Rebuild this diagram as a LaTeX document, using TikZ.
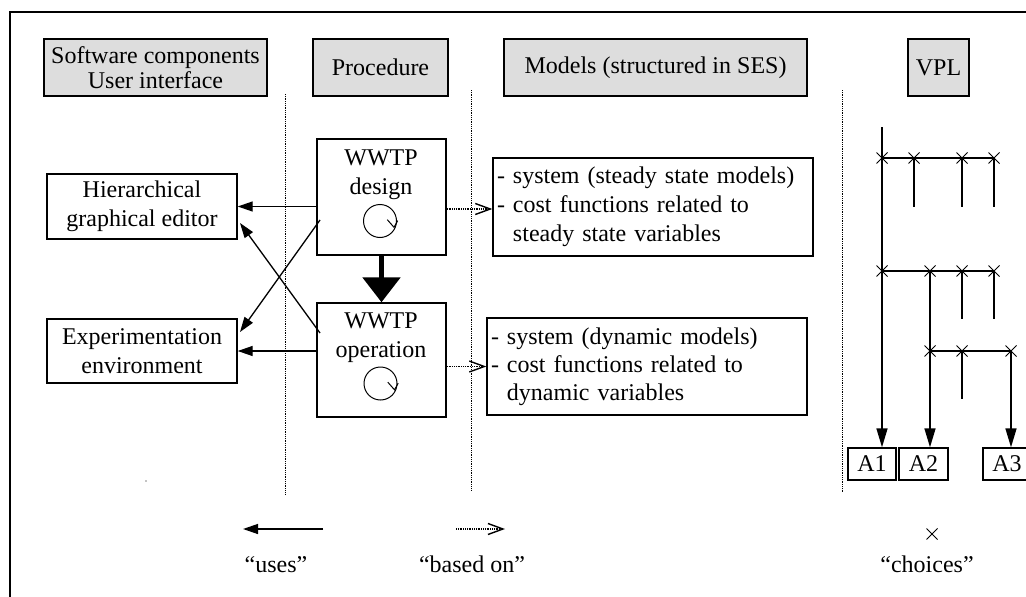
\documentclass[tikz,border=0pt]{standalone}
\usepackage{fontspec}
\setmainfont{Liberation Serif}
\usetikzlibrary{arrows.meta,calc}
\definecolor{hdrgray}{RGB}{221,221,221}
\tikzset{
  lbl/.style={font=\fontsize{24pt}{29pt}\selectfont},
  hdr/.style={draw, line width=1.5pt, fill=hdrgray, inner sep=0pt, lbl, align=center},
  box/.style={draw, line width=1.4pt, inner sep=0pt, lbl, align=center},
  modelbox/.style={draw, line width=1.4pt, inner xsep=4pt, inner ysep=0pt, lbl, align=left, text width=312pt},
  abox/.style={draw, line width=1.4pt, inner sep=0pt, lbl, minimum width=48pt, minimum height=32pt},
  plain/.style={inner sep=0pt, lbl, align=center},
  uses/.style={line width=1.3pt, -{Triangle[length=15pt,width=10pt]}},
  basedon/.style={line width=1.1pt, dash pattern=on 1pt off 0.8pt, -{Straight Barb[length=15pt,width=11pt,line width=1.4pt]}},
  divider/.style={line width=1pt, dash pattern=on 1pt off 0.8pt},
  vpl/.style={line width=1.6pt},
  vplarrow/.style={line width=1.6pt, -{Triangle[length=19pt,width=11pt]}},
  xmark/.pic={\draw[line width=0.9pt] (-5.5,-5.5) -- (5.5,5.5) (-5.5,5.5) -- (5.5,-5.5);},
  cyc/.pic={\draw[line width=1pt] (0,0) circle (16.5pt);
            \draw[line width=1pt] (7.3,-1.3) -- (14,6.3) -- (17.7,-0.3);}
}
\begin{document}
\begin{tikzpicture}[x=1pt, y=-1pt]
\useasboundingbox (0,0) rectangle (1026,597);
% frame
\draw[line width=2pt] (10,597) -- (10,12) -- (1026,12);

% headers
\node[hdr, minimum width=223pt, minimum height=57pt, font=\fontsize{24pt}{25.5pt}\selectfont] (h1) at (155.5,67.5) {Software components\\User interface};
\node[hdr, minimum width=135pt, minimum height=57pt] (h2) at (380.5,67.5) {Procedure};
\node[hdr, minimum width=303pt, minimum height=57pt] (h3) at (655.5,67.5) {Models (structured in SES)};
\node[hdr, minimum width=61pt, minimum height=57pt] (h4) at (938.5,67.5) {VPL};

% dividers
\coordinate (d1t) at (285,94);  \coordinate (d1b) at (285,495);
\coordinate (d2t) at (471,90);  \coordinate (d2b) at (471,491);
\coordinate (d3t) at (842,90);  \coordinate (d3b) at (842,492);
\draw[divider] (d1t) -- (d1b);
\draw[divider] (d2t) -- (d2b);
\draw[divider] (d3t) -- (d3b);

% software components
\node[box, minimum width=190pt, minimum height=65pt] (hier) at (142,206.5) {Hierarchical\\graphical editor};
\node[box, minimum width=190pt, minimum height=64pt] (exp) at (142,351) {Experimentation\\environment};

% procedure
\node[box, minimum width=129pt, minimum height=116pt] (design) at (381.5,197) {};
\node[plain] (designtxt) at (381,175) {WWTP\\design};
\pic at (380,221) {cyc};
\node[box, minimum width=129pt, minimum height=114pt] (oper) at (381.5,360) {};
\node[plain] (opertxt) at (381,338) {WWTP\\operation};
\pic at (380.5,383.5) {cyc};

\draw[line width=5.5pt, -{Triangle[length=25pt,width=37pt]}] (design.south) -- (oper.north);

% models
\node[modelbox, minimum height=98pt] (m1) at (653,207) {- system (steady state models)\\- cost functions related to\\\phantom{- }steady state variables};
\node[modelbox, minimum height=97pt, font=\fontsize{24pt}{28pt}\selectfont] (m2) at (647,366.5) {- system (dynamic models)\\- cost functions related to\\\phantom{- }dynamic variables};

% uses arrows
\draw[uses] (design.west |- hier.east) -- (hier.east);
\draw[uses] (oper.west |- exp.east) -- (exp.east);
\coordinate (c1) at (320,220);
\coordinate (c2) at (240,332);
\coordinate (c3) at (320,333);
\coordinate (c4) at (240,223);
\draw[uses] (c1) -- (c2);
\draw[uses] (c3) -- (c4);

% based on arrows
\draw[basedon] (design.east |- 0,209) -- (m1.west |- 0,209);
\draw[basedon] (oper.east |- m2.west) -- (m2.west);

% VPL
\node[abox] (a1) at (872,464) {A1};
\node[abox, minimum width=49pt] (a2) at (923.5,464) {A2};
\node[abox] (a3) at (1007,464) {A3};

\coordinate (top) at (882,127);
\draw[vplarrow] (top) -- (top |- a1.north);
\draw[vpl] (882,158) -- (994,158);
\draw[vpl] (914,158) -- (914,207) (962,158) -- (962,207) (994,158) -- (994,207);
\draw[vpl] (882,271) -- (994,271);
\draw[vpl] (962,271) -- (962,319) (994,271) -- (994,319);
\coordinate (r2) at (930,271);
\draw[vplarrow] (r2) -- (r2 |- a2.north);
\draw[vpl] (930,351) -- (1011,351);
\draw[vpl] (962,351) -- (962,399);
\coordinate (r3) at (1011,351);
\draw[vplarrow] (r3) -- (r3 |- a3.north);
\foreach \p in {(882,158),(914,158),(962,158),(994,158),(882,271),(930,271),(962,271),(994,271),(930,351),(962,351),(1011,351)}
  \pic at \p {xmark};

% stray dot
\fill (146,481) circle (0.7pt);

% legend
\coordinate (lu1) at (323,529); \coordinate (lu2) at (243,529);
\draw[uses] (lu1) -- (lu2);
\coordinate (lb1) at (456,529); \coordinate (lb2) at (505,529);
\draw[basedon] (lb1) -- (lb2);
\pic at (932,534) {xmark};
\node[plain, anchor=base] (tuses) at (276,572) {“uses”};
\node[plain, anchor=base] (tbased) at (472,572) {“based on”};
\node[plain, anchor=base] (tchoices) at (927,572) {“choices”};
\end{tikzpicture}
\end{document}
